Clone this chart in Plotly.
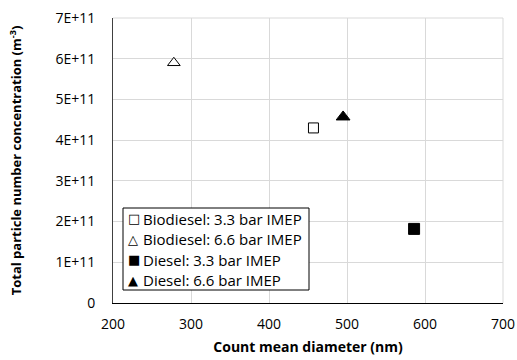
import plotly.graph_objects as go

series_names = ["Biodiesel: 3.3 bar IMEP", "Biodiesel: 6.6 bar IMEP",
                "Diesel: 3.3 bar IMEP", "Diesel: 6.6 bar IMEP"]
legend_glyphs = ["\u25A1", "\u25B3", "\u25A0", "\u25B2"]
diameter_nm = [457, 278, 586, 495]
concentration = [4.30e11, 5.90e11, 1.82e11, 4.57e11]
symbols = ["square", "triangle-up", "square", "triangle-up"]
fills = ["white", "white", "black", "black"]
sizes = [10, 11, 11, 12]

y_tickvals = [0, 1e11, 2e11, 3e11, 4e11, 5e11, 6e11, 7e11]
y_ticktext = ["0", "1E+11", "2E+11", "3E+11", "4E+11", "5E+11", "6E+11", "7E+11"]
x_tickvals = [200, 300, 400, 500, 600, 700]

FONT = "Open Sans"
W, H = 517, 360
ML, MR, MT, MB = 113, 14, 18, 57
PW, PH = W - ML - MR, H - MT - MB

def px_to_paper(px, py):
    return (px - ML) / PW, (H - MB - py) / PH

fig = go.Figure()
for name, x, y, sym, fc, sz in zip(series_names, diameter_nm, concentration, symbols, fills, sizes):
    fig.add_trace(go.Scatter(
        x=[x], y=[y], mode="markers", name=name,
        marker=dict(symbol=sym, size=sz, color=fc, line=dict(color="black", width=1)),
    ))

# legend box drawn manually (Excel-style compact legend)
bx0, by0 = px_to_paper(123, 290)
bx1, by1 = px_to_paper(309, 208)
fig.add_shape(type="rect", xref="paper", yref="paper", x0=bx0, x1=bx1, y0=by0, y1=by1,
              line=dict(color="black", width=1), fillcolor="white", layer="above")
row_y = [218.5, 239.2, 259.8, 280.4]
for glyph, name, ry in zip(legend_glyphs, series_names, row_y):
    gx, gy = px_to_paper(126, ry)
    fig.add_annotation(xref="paper", yref="paper", x=gx, y=gy, xanchor="left", yanchor="middle",
                       text=glyph, showarrow=False,
                       font=dict(family="DejaVu Sans", size=13, color="black"))
    tx, ty = px_to_paper(141, ry)
    fig.add_annotation(xref="paper", yref="paper", x=tx, y=ty, xanchor="left", yanchor="middle",
                       text=name, showarrow=False,
                       font=dict(family=FONT, size=15, color="black"))

fig.update_layout(
    width=W, height=H,
    margin=dict(l=ML, r=MR, t=MT, b=MB, autoexpand=False),
    plot_bgcolor="white", paper_bgcolor="white",
    font=dict(family=FONT, size=14, color="black"),
    showlegend=False,
)
fig.update_xaxes(
    range=[200, 700], tickvals=x_tickvals, automargin=False,
    showgrid=True, gridcolor="#d9d9d9", gridwidth=1,
    showline=True, linecolor="black", linewidth=1,
    zeroline=False, ticks="", ticklabelstandoff=8,
    tickfont=dict(family=FONT, size=14, color="black"),
    title=dict(text="<b>Count mean diameter (nm)</b>", standoff=10,
               font=dict(family=FONT, size=14, color="black")),
)
fig.update_yaxes(
    range=[0, 7e11], tickvals=y_tickvals, ticktext=y_ticktext, automargin=False,
    showgrid=True, gridcolor="#d9d9d9", gridwidth=1,
    showline=True, linecolor="#404040", linewidth=1,
    zeroline=False, ticks="", ticklabelstandoff=14,
    tickfont=dict(family=FONT, size=14, color="black"),
    title=dict(text="<b>Total particle number concentration (m<sup>-3</sup>)</b>", standoff=30,
               font=dict(family=FONT, size=13, color="black")),
)
fig.add_shape(type="line", xref="paper", yref="paper", x0=0, x1=1, y0=1, y1=1,
              line=dict(color="#d9d9d9", width=1), layer="below")
fig.add_shape(type="line", xref="paper", yref="paper", x0=1, x1=1, y0=0, y1=1,
              line=dict(color="#d9d9d9", width=1), layer="below")

fig.write_html("out.html")
